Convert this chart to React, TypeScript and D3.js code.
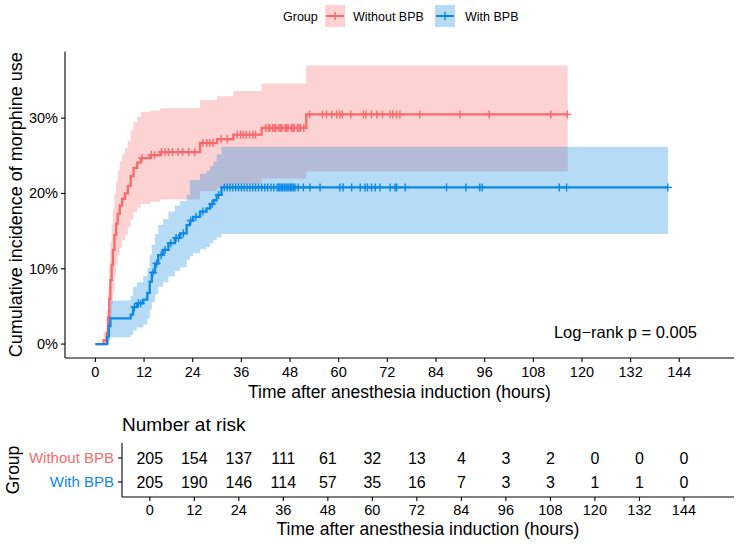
import * as d3 from "d3";

// groups and palette
const groups = ["Without BPB", "With BPB"];
const lineColors = ["#F96A6A", "#0B89E6"];

// Without BPB: step times (h), cumulative incidence (%) and 95% CI
const noBpbTime = [0, 2.0, 2.8, 3.1, 3.4, 3.7, 4.0, 4.3, 4.7, 5.1, 5.5, 6.0, 6.6, 7.3, 8.0, 8.7, 9.4, 10.3, 11.2, 13.5, 16.0, 25.8, 30.0, 34.0, 41.0, 52.0];
const noBpbEst = [0, 0.5, 1.5, 3.5, 6.0, 8.5, 10.5, 12.5, 14.5, 16.0, 17.3, 18.4, 19.3, 20.0, 21.0, 22.3, 23.4, 24.1, 24.7, 25.1, 25.5, 26.7, 27.2, 27.8, 28.7, 30.5];
const noBpbLower = [0, 0, 0, 0, 1.5, 3.5, 5.3, 7.0, 9.0, 10.5, 11.8, 12.8, 13.8, 14.5, 15.5, 16.5, 17.5, 18.1, 18.6, 18.9, 19.2, 20.3, 20.8, 21.3, 22.0, 22.9];
const noBpbUpper = [0, 1.5, 4.5, 7.5, 10.5, 13.5, 15.8, 18.0, 20.0, 21.6, 23.0, 24.2, 25.2, 26.0, 27.0, 28.4, 29.5, 30.2, 30.8, 31.0, 31.3, 32.4, 32.9, 33.6, 34.6, 37.0];
const noBpbEnd = 116.5;
const noBpbCensor = [11.5, 13.8, 14.6, 16.3, 17.2, 18.0, 19.0, 20.4, 21.5, 23.0, 24.5, 26.5, 27.5, 28.2, 29.0, 31.0, 32.5, 35.0, 35.8, 36.5, 37.2, 38.0, 38.8, 39.5, 42.0, 42.6, 43.0, 43.7, 44.1, 44.5, 45.2, 45.6, 46.0, 46.8, 47.2, 47.5, 48.3, 48.7, 49.0, 49.8, 50.2, 50.6, 51.4, 52.8, 56.0, 57.0, 58.3, 59.5, 60.3, 60.9, 63.0, 66.1, 66.7, 68.1, 69.4, 70.8, 72.7, 73.3, 74.3, 75.1, 80.0, 89.9, 97.1, 112.3, 116.4];

// With BPB
const bpbTime = [0, 2.9, 3.3, 3.7, 8.7, 9.3, 10.2, 11.8, 12.8, 13.4, 13.9, 14.7, 15.5, 16.7, 18.0, 19.6, 20.9, 22.5, 23.3, 24.1, 25.8, 27.4, 28.3, 29.1, 29.9, 31.1];
const bpbEst = [0, 1.0, 2.4, 3.4, 3.9, 4.9, 5.4, 5.9, 6.8, 8.3, 9.5, 10.7, 11.8, 12.5, 13.4, 14.1, 14.7, 15.8, 16.4, 16.9, 17.6, 18.0, 18.6, 19.1, 19.8, 20.8];
const bpbLower = [0, 0, 0.5, 0.9, 1.2, 1.8, 2.2, 2.6, 3.4, 4.6, 5.6, 6.6, 7.6, 8.2, 9.0, 9.7, 10.2, 11.2, 11.7, 12.1, 12.6, 12.9, 13.4, 13.8, 14.2, 14.6];
const bpbUpper = [0, 2.4, 4.3, 5.8, 6.4, 7.6, 8.2, 9.0, 10.1, 11.8, 13.2, 14.6, 15.8, 16.6, 17.6, 18.4, 19.0, 19.8, 21.8, 21.8, 22.6, 23.0, 23.6, 24.2, 25.2, 26.2];
const bpbEnd = 141.2;
const bpbCensor = [9.6, 10.6, 11.2, 14.2, 15.1, 16.2, 17.2, 18.6, 19.9, 20.5, 21.7, 23.5, 24.8, 26.5, 28.8, 30.4, 31.8, 32.5, 33.2, 33.9, 34.6, 35.3, 36.0, 36.7, 37.4, 38.1, 38.8, 39.5, 40.2, 41.0, 41.8, 42.5, 43.3, 44.0, 44.8, 45.2, 45.5, 45.9, 46.2, 46.6, 47.0, 47.3, 47.7, 48.1, 48.4, 48.8, 49.2, 50.0, 51.3, 52.9, 55.4, 60.3, 61.1, 63.2, 65.3, 66.5, 67.1, 68.1, 69.0, 70.2, 72.7, 73.9, 74.3, 76.4, 86.6, 91.4, 94.8, 95.4, 114.4, 116.2, 141.2];

// number at risk table
const riskTimes = [0, 12, 24, 36, 48, 60, 72, 84, 96, 108, 120, 132, 144];
const riskNoBpb = [205, 154, 137, 111, 61, 32, 13, 4, 3, 2, 0, 0, 0];
const riskBpb = [205, 190, 146, 114, 57, 35, 16, 7, 3, 3, 1, 1, 0];
const yTicks = [0, 10, 20, 30];

const FONT = "'Liberation Sans', Arial, Helvetica, sans-serif";

type Step = { t: number; est: number; lo: number; hi: number };

function buildSteps(time: number[], est: number[], lo: number[], hi: number[], end: number): Step[] {
  const s = time.map((t, i) => ({ t, est: est[i], lo: lo[i], hi: hi[i] }));
  const last = s[s.length - 1];
  s.push({ ...last, t: end });
  return s;
}

const series = [
  { name: groups[0], color: lineColors[0], steps: buildSteps(noBpbTime, noBpbEst, noBpbLower, noBpbUpper, noBpbEnd), censor: noBpbCensor },
  { name: groups[1], color: lineColors[1], steps: buildSteps(bpbTime, bpbEst, bpbLower, bpbUpper, bpbEnd), censor: bpbCensor },
];
const risks = [riskNoBpb, riskBpb];

export default function App() {
  const x = d3.scaleLinear().domain([-7.5, 157.5]).range([65, 734]);
  const y = d3.scaleLinear().domain([-1.85, 38.85]).range([358, 51.5]);
  const xt = d3.scaleLinear().domain([-7.5, 157.5]).range([122, 734]);
  const rowY = d3.scalePoint<string>().domain(groups).range([458, 482]);

  const area = d3
    .area<Step>()
    .x((d) => x(d.t))
    .y0((d) => y(d.lo))
    .y1((d) => y(d.hi))
    .curve(d3.curveStepAfter);
  const line = d3
    .line<Step>()
    .x((d) => x(d.t))
    .y((d) => y(d.est))
    .curve(d3.curveStepAfter);

  const estAt = (steps: Step[], t: number) => {
    const i = d3.bisectRight(steps.map((s) => s.t), t) - 1;
    return steps[Math.max(0, i)].est;
  };

  const ticks = d3.range(0, 145, 12);

  return (
    <svg
      width={742}
      height={547}
      style={{ position: "absolute", left: 0, top: 0, background: "#fff" }}
      fontFamily={FONT}
    >
      {/* legend */}
      <g>
        <text x={283} y={21} fontSize={12.5}>Group</text>
        {series.map((s, i) => {
          const kx = i === 0 ? 325 : 435;
          const tx = i === 0 ? 353 : 465;
          return (
            <g key={s.name}>
              <rect x={kx} y={5} width={20} height={22} fill={s.color} fillOpacity={0.3} />
              <line x1={kx + 1} x2={kx + 19} y1={16} y2={16} stroke={s.color} strokeWidth={2} />
              <line x1={kx + 10} x2={kx + 10} y1={12} y2={20} stroke={s.color} strokeWidth={1.5} />
              <text x={tx} y={21} fontSize={12.5}>{s.name}</text>
            </g>
          );
        })}
      </g>

      {/* confidence bands */}
      {series.map((s) => (
        <path key={"band" + s.name} d={area(s.steps) ?? ""} fill={s.color} fillOpacity={0.3} />
      ))}
      {/* curves */}
      {series.map((s) => (
        <path key={"line" + s.name} d={line(s.steps) ?? ""} fill="none" stroke={s.color} strokeWidth={2.3} />
      ))}
      {/* censor marks */}
      {series.map((s) =>
        s.censor.map((c, i) => {
          const cx = x(c);
          const cy = y(estAt(s.steps, c));
          return (
            <g key={s.name + "c" + i} stroke={s.color} strokeWidth={1.4}>
              <line x1={cx} x2={cx} y1={cy - 4} y2={cy + 4} />
              <line x1={cx - 4} x2={cx + 4} y1={cy} y2={cy} />
            </g>
          );
        })
      )}

      {/* main axes */}
      <line x1={65} x2={65} y1={51.5} y2={358} stroke="#000" strokeWidth={1.1} />
      <line x1={65} x2={734} y1={358} y2={358} stroke="#000" strokeWidth={1.1} />
      {yTicks.map((v) => (
        <g key={"y" + v}>
          <line x1={61} x2={65} y1={y(v)} y2={y(v)} stroke="#000" strokeWidth={1.1} />
          <text x={58} y={y(v) + 5} textAnchor="end" fontSize={14.5} fill="#000">{v + "%"}</text>
        </g>
      ))}
      {ticks.map((t) => (
        <g key={"x" + t}>
          <line x1={x(t)} x2={x(t)} y1={358} y2={362} stroke="#000" strokeWidth={1.1} />
          <text x={x(t)} y={377} textAnchor="middle" fontSize={14.5}>{t}</text>
        </g>
      ))}
      <text x={(65 + 734) / 2} y={398} textAnchor="middle" fontSize={17.5}>
        Time after anesthesia induction (hours)
      </text>
      <text transform={`translate(21.5,${(51.5 + 358) / 2}) rotate(-90)`} textAnchor="middle" fontSize={18}>
        Cumulative incidence of morphine use
      </text>
      <text x={697} y={338} textAnchor="end" fontSize={16.5}>Log−rank p = 0.005</text>

      {/* number at risk */}
      <text x={122} y={431} fontSize={19}>Number at risk</text>
      <line x1={122} x2={122} y1={443} y2={497} stroke="#000" strokeWidth={1.1} />
      <line x1={122} x2={734} y1={497} y2={497} stroke="#000" strokeWidth={1.1} />
      {series.map((s, gi) => (
        <g key={"row" + s.name}>
          <line x1={118} x2={122} y1={rowY(s.name)!} y2={rowY(s.name)!} stroke="#000" strokeWidth={1.1} />
          <text x={114} y={rowY(s.name)! + 5} textAnchor="end" fontSize={15} fill={s.color}>{s.name}</text>
          {riskTimes.map((t, i) => (
            <text key={t} x={xt(t)} y={rowY(s.name)! + 6} textAnchor="middle" fontSize={16}>
              {risks[gi][i]}
            </text>
          ))}
        </g>
      ))}
      {ticks.map((t) => (
        <g key={"xt" + t}>
          <line x1={xt(t)} x2={xt(t)} y1={497} y2={501} stroke="#000" strokeWidth={1.1} />
          <text x={xt(t)} y={515} textAnchor="middle" fontSize={14.5}>{t}</text>
        </g>
      ))}
      <text x={(122 + 734) / 2} y={535} textAnchor="middle" fontSize={17.5}>
        Time after anesthesia induction (hours)
      </text>
      <text transform={`translate(19,470) rotate(-90)`} textAnchor="middle" fontSize={17.5}>
        Group
      </text>
    </svg>
  );
}
